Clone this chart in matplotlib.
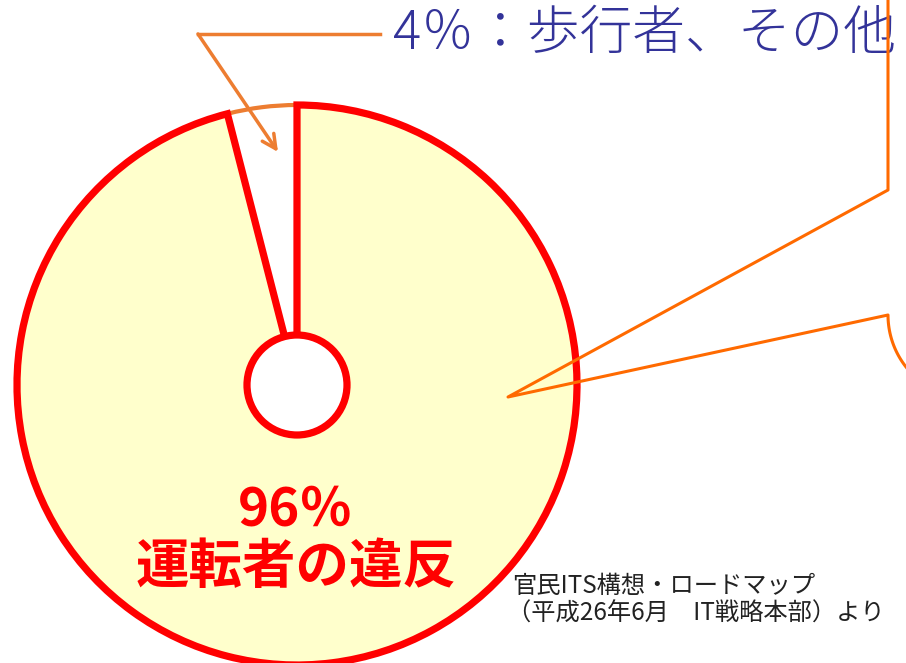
import matplotlib.pyplot as plt
import numpy as np

plt.rcParams['font.family'] = ['Noto Sans CJK JP', 'DejaVu Sans']

# data
shares = [96, 4]
fills = ['#FFFFCC', 'white']
edges = ['#FF0000', '#ED7D31']
big_label = ['96％', '運転者の違反']
small_label = '4％：歩行者、その他'
source = ['官民ITS構想・ロードマップ', '（平成26年6月　IT戦略本部）より']

W, H = 906, 663
fig = plt.figure(figsize=(W / 100, H / 100), dpi=100)
ax = fig.add_axes([0, 0, 1, 1])

cx, cy = 297, H - 385
wedges, _ = ax.pie(shares, center=(cx, cy), radius=280, startangle=90,
                   counterclock=False, colors=fills, frame=True)
for w, ec, z in zip(wedges, edges, [3, 2]):
    w.set_edgecolor(ec)
    w.set_linewidth(5.2 if ec == '#FF0000' else 3)
    w.set_zorder(z)
ax.set_xlim(0, W)
ax.set_ylim(0, H)
ax.set_aspect('equal')
ax.axis('off')

hole = plt.Circle((cx, cy), 50, facecolor='white', edgecolor='#FF0000',
                  linewidth=5.2, zorder=4)
ax.add_patch(hole)

# arrow to the 4% slice
ax.plot([380, 198], [H - 34, H - 34], color='#ED7D31', lw=2.5, zorder=5)
ax.annotate('', xy=(278, H - 152), xytext=(198, H - 34),
            arrowprops=dict(arrowstyle='->,head_length=1.0,head_width=0.5',
                            color='#ED7D31', lw=2.5, shrinkA=0, shrinkB=0),
            zorder=5)
ax.text(393, H - 34, small_label, color='#333399', fontsize=38,
        fontweight='light', va='center', ha='left', zorder=6)

# callout bubble pointing at the 96% slice
bx = [888, 888, 508, 888]
by = [H, H - 190, H - 397, H - 315]
th = np.radians(np.linspace(180, 250, 40))
bx += list(972 + 84 * np.cos(th))
by += list(H - 315 + 84 * np.sin(th))
ax.plot(bx, by, color='#FF6A00', lw=2.2, zorder=7)

ax.text(295, H - 510, big_label[0], color='#FF0000', fontsize=38,
        fontweight='bold', ha='center', va='center', zorder=6)
ax.text(296, H - 567, big_label[1], color='#FF0000', fontsize=38.5,
        fontweight='bold', ha='center', va='center', zorder=6)

ax.text(512, H - 586, source[0], color='#222222', fontsize=17.5,
        ha='left', va='center', zorder=6)
ax.text(507, H - 614, source[1], color='#222222', fontsize=17.5,
        ha='left', va='center', zorder=6)

fig.savefig('out.png', dpi=100)
